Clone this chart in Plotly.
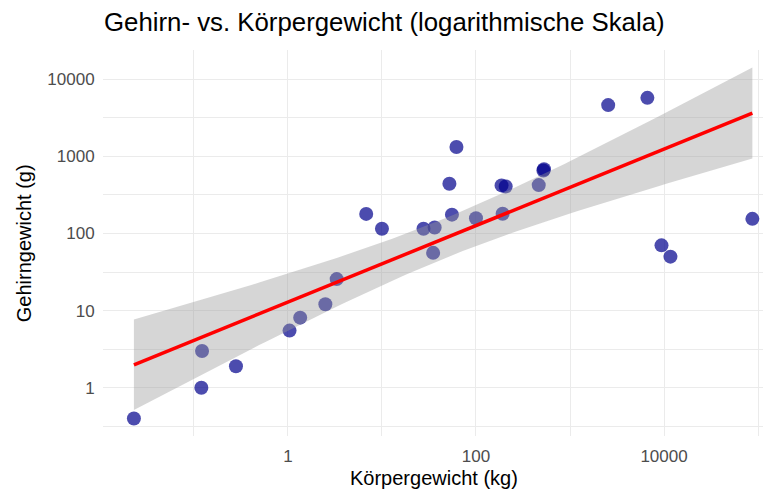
import numpy as np
import plotly.graph_objects as go

# MASS::Animals - body weight (kg) and brain weight (g)
animals = ["Mountain beaver", "Cow", "Grey wolf", "Goat", "Guinea pig", "Dipliodocus",
           "Asian elephant", "Donkey", "Horse", "Potar monkey", "Cat", "Giraffe",
           "Gorilla", "Human", "African elephant", "Triceratops", "Rhesus monkey",
           "Kangaroo", "Golden hamster", "Mouse", "Rabbit", "Sheep", "Jaguar",
           "Chimpanzee", "Rat", "Brachiosaurus", "Mole", "Pig"]
body = [1.35, 465, 36.33, 27.66, 1.04, 11700, 2547, 187.1, 521, 10, 3.3, 529,
        207, 62, 6654, 9400, 6.8, 35, 0.12, 0.023, 2.5, 55.5, 100, 52.16, 0.28,
        87000, 0.122, 192]
brain = [8.1, 423, 119.5, 115, 5.5, 50, 4603, 419, 655, 115, 25.6, 680, 406,
         1320, 5712, 70, 179, 56, 1, 0.4, 12.1, 175, 157, 440, 1.9, 154.5, 3, 180]

x_ticks = [1, 100, 10000]
x_minor = [0.1, 10, 1000, 100000]
y_ticks = [1, 10, 100, 1000, 10000]
y_minor = [10 ** (k + 0.5) for k in range(-1, 5)]

# linear fit on log10 scale, like geom_smooth(method = "lm") with log axes
lx = np.log10(body)
ly = np.log10(brain)
n = len(lx)
b1, b0 = np.polyfit(lx, ly, 1)
resid = ly - (b0 + b1 * lx)
s = np.sqrt(np.sum(resid ** 2) / (n - 2))
sxx = np.sum((lx - lx.mean()) ** 2)
t_crit = 2.0555  # qt(0.975, 26)

grid_x = np.linspace(lx.min(), lx.max(), 80)
fit = b0 + b1 * grid_x
se = s * np.sqrt(1 / n + (grid_x - lx.mean()) ** 2 / sxx)
lower = fit - t_crit * se
upper = fit + t_crit * se

fig = go.Figure()

fig.add_trace(go.Scatter(
    x=body, y=brain, mode='markers', text=animals,
    marker=dict(size=14, color='rgba(0,0,139,0.7)',
                line=dict(width=0)),
    showlegend=False
))

fig.add_trace(go.Scatter(
    x=10 ** grid_x, y=10 ** lower, mode='lines',
    line=dict(width=0), showlegend=False, hoverinfo='skip'
))
fig.add_trace(go.Scatter(
    x=10 ** grid_x, y=10 ** upper, mode='lines', fill='tonexty',
    fillcolor='rgba(153,153,153,0.4)',
    line=dict(width=0), showlegend=False, hoverinfo='skip'
))
fig.add_trace(go.Scatter(
    x=10 ** grid_x, y=10 ** fit, mode='lines',
    line=dict(color='#FF0000', width=3.5), showlegend=False
))

y_lo = min(ly.min(), lower.min())
y_hi = max(ly.max(), upper.max())
pad = 0.05 * (y_hi - y_lo)

# the page body has an 8px margin, so the figure is sized to the visible area
W, H = 763, 485
fig.update_layout(
    width=W, height=H,
    margin=dict(l=95, r=6, t=42, b=57),
    plot_bgcolor='white',
    paper_bgcolor='white',
    font=dict(family='Liberation Sans, Arial, sans-serif', size=17, color='#4D4D4D'),
    title=dict(text='Gehirn- vs. Körpergewicht (logarithmische Skala)',
               x=96 / W, xanchor='left', y=1 - 14 / H, yanchor='middle',
               font=dict(size=25.8, color='black')),
    xaxis=dict(
        type='log', range=[-1.967, 5.074], automargin=False,
        tickmode='array', tickvals=x_ticks, ticktext=[str(v) for v in x_ticks],
        showgrid=True, gridcolor='#EBEBEB', gridwidth=1.2,
        minor=dict(tickmode='array', tickvals=x_minor, showgrid=True,
                   gridcolor='#EBEBEB', gridwidth=0.6, ticklen=0),
        zeroline=False, showline=False,
        ticks='outside', ticklen=5, tickcolor='rgba(0,0,0,0)'
    ),
    yaxis=dict(
        type='log', range=[y_lo - pad, y_hi + pad], automargin=False,
        tickmode='array', tickvals=y_ticks, ticktext=[str(v) for v in y_ticks],
        showgrid=True, gridcolor='#EBEBEB', gridwidth=1.2,
        minor=dict(tickmode='array', tickvals=y_minor, showgrid=True,
                   gridcolor='#EBEBEB', gridwidth=0.6, ticklen=0),
        zeroline=False, showline=False,
        ticks='outside', ticklen=4, tickcolor='rgba(0,0,0,0)'
    ),
    annotations=[
        dict(text='Körpergewicht (kg)', xref='paper', yref='paper', x=0.5, y=-0.109,
             xanchor='center', yanchor='middle', showarrow=False,
             font=dict(size=20, color='black')),
        dict(text='Gehirngewicht (g)', xref='paper', yref='paper', x=-0.119, y=0.5,
             xanchor='center', yanchor='middle', showarrow=False, textangle=-90,
             font=dict(size=20, color='black')),
    ],
)

fig.write_html("out.html")
